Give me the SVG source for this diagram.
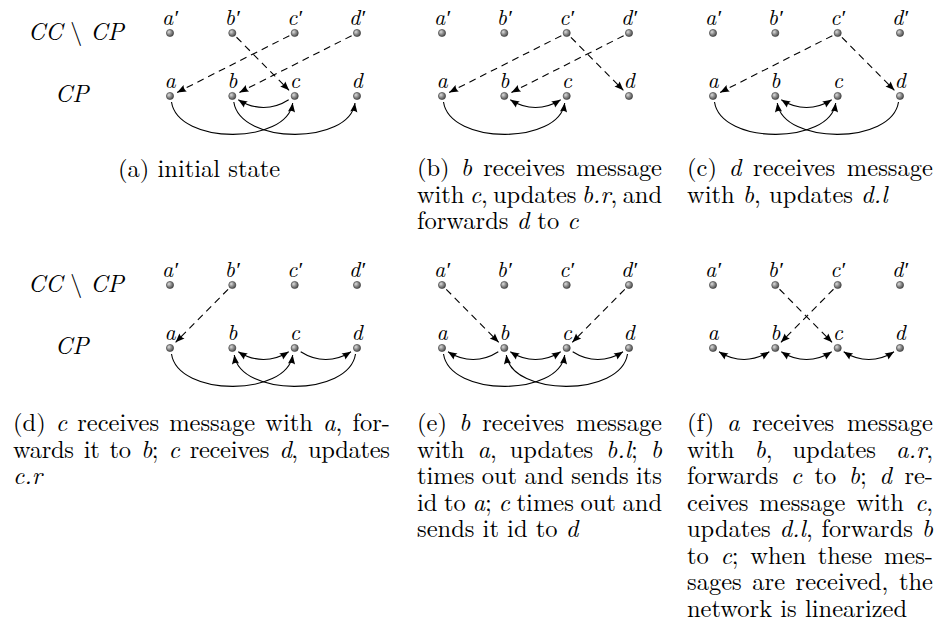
<svg xmlns="http://www.w3.org/2000/svg" width="938" height="640" viewBox="0 0 938 640">
<style>
text{fill:#000;font-family:'Latin Modern Roman','CMU Serif','Liberation Serif','Times New Roman',Times,Tinos,'Nimbus Roman',FreeSerif,'DejaVu Serif','Noto Serif',serif}
.lbl{font-style:italic;font-size:22px;text-anchor:middle}
.row{font-size:24px}
.cap{font-size:24.5px}
.i{font-style:italic}
.dash{fill:none;stroke:#000;stroke-width:1.1;stroke-dasharray:7 5;marker-end:url(#arr)}
.sol{fill:none;stroke:#000;stroke-width:1.1}
.ae{marker-end:url(#arr)}
.as{marker-start:url(#arr)}
.dot{fill:url(#ball);stroke:#3a3a3a;stroke-width:0.6}
</style>
<defs>
<radialGradient id="ball" cx="0.35" cy="0.35" r="0.7">
<stop offset="0" stop-color="#dcdcdc"/>
<stop offset="0.5" stop-color="#8c8c8c"/>
<stop offset="1" stop-color="#4a4a4a"/>
</radialGradient>
<marker id="arr" viewBox="-10 -5 11 10" refX="0" refY="0" markerWidth="11" markerHeight="10" markerUnits="userSpaceOnUse" orient="auto-start-reverse">
<path d="M0,0 L-9,-3.6 Q-7,0 -9,3.6 Z" fill="#000"/>
</marker>
</defs>
<rect width="938" height="640" fill="#fff"/>

<!-- row labels -->
<g id="row-labels">
<text class="row" x="28" y="40"><tspan class="i">CC</tspan> \ <tspan class="i">CP</tspan></text>
<text class="row i" x="55" y="102">CP</text>
<text class="row" x="28" y="292"><tspan class="i">CC</tspan> \ <tspan class="i">CP</tspan></text>
<text class="row i" x="55" y="354">CP</text>
</g>

<!-- Panel (a) -->
<g id="panel-a" transform="translate(170,33)">
<g id="pa-connectors">
<path class="dash" d="M119.34,2.71 L7.14,59.39"/>
<path class="dash" d="M181.64,2.71 L69.44,59.39"/>
<path class="dash" d="M66.52,4.26 L119.07,57.32"/>
<path class="sol ae" d="M118.7,66.7 C102.7,77 84.3,77 68.3,66.7"/>
<path class="sol ae" d="M1.5,69 C8,112 117,112 122.7,70"/>
<path class="sol ae" d="M63.8,69 C70.3,112 179.3,112 185,70"/>
</g>
<g id="pa-a1"><circle class="dot" cx="0" cy="0" r="3.6"/><text class="lbl" x="0" y="-8">a′</text></g>
<g id="pa-b1"><circle class="dot" cx="62.3" cy="0" r="3.6"/><text class="lbl" x="62.3" y="-8">b′</text></g>
<g id="pa-c1"><circle class="dot" cx="124.7" cy="0" r="3.6"/><text class="lbl" x="124.7" y="-8">c′</text></g>
<g id="pa-d1"><circle class="dot" cx="187" cy="0" r="3.6"/><text class="lbl" x="187" y="-8">d′</text></g>
<g id="pa-a"><circle class="dot" cx="0" cy="63" r="3.6"/><text class="lbl" x="0" y="55">a</text></g>
<g id="pa-b"><circle class="dot" cx="62.3" cy="63" r="3.6"/><text class="lbl" x="62.3" y="55">b</text></g>
<g id="pa-c"><circle class="dot" cx="124.7" cy="63" r="3.6"/><text class="lbl" x="124.7" y="55">c</text></g>
<g id="pa-d"><circle class="dot" cx="187" cy="63" r="3.6"/><text class="lbl" x="187" y="55">d</text></g>
</g>

<!-- Panel (b) -->
<g id="panel-b" transform="translate(442,33)">
<g id="pb-connectors">
<path class="dash" d="M119.34,2.71 L7.14,59.39"/>
<path class="dash" d="M181.64,2.71 L69.44,59.39"/>
<path class="dash" d="M128.92,4.27 L181.38,57.31"/>
<path class="sol as ae" d="M68.3,66.7 C84.3,77 102.7,77 118.7,66.7"/>
<path class="sol ae" d="M1.5,69 C8,112 117,112 122.7,70"/>
</g>
<g id="pb-a1"><circle class="dot" cx="0" cy="0" r="3.6"/><text class="lbl" x="0" y="-8">a′</text></g>
<g id="pb-b1"><circle class="dot" cx="62.3" cy="0" r="3.6"/><text class="lbl" x="62.3" y="-8">b′</text></g>
<g id="pb-c1"><circle class="dot" cx="124.7" cy="0" r="3.6"/><text class="lbl" x="124.7" y="-8">c′</text></g>
<g id="pb-d1"><circle class="dot" cx="187" cy="0" r="3.6"/><text class="lbl" x="187" y="-8">d′</text></g>
<g id="pb-a"><circle class="dot" cx="0" cy="63" r="3.6"/><text class="lbl" x="0" y="55">a</text></g>
<g id="pb-b"><circle class="dot" cx="62.3" cy="63" r="3.6"/><text class="lbl" x="62.3" y="55">b</text></g>
<g id="pb-c"><circle class="dot" cx="124.7" cy="63" r="3.6"/><text class="lbl" x="124.7" y="55">c</text></g>
<g id="pb-d"><circle class="dot" cx="187" cy="63" r="3.6"/><text class="lbl" x="187" y="55">d</text></g>
</g>

<!-- Panel (c) -->
<g id="panel-c" transform="translate(713,33)">
<g id="pc-connectors">
<path class="dash" d="M119.34,2.71 L7.14,59.39"/>
<path class="dash" d="M128.92,4.27 L181.38,57.31"/>
<path class="sol as ae" d="M68.3,66.7 C84.3,77 102.7,77 118.7,66.7"/>
<path class="sol ae" d="M1.5,69 C8,112 117,112 122.7,70"/>
<path class="sol ae" d="M185.5,69 C179,112 70,112 64.3,70"/>
</g>
<g id="pc-a1"><circle class="dot" cx="0" cy="0" r="3.6"/><text class="lbl" x="0" y="-8">a′</text></g>
<g id="pc-b1"><circle class="dot" cx="62.3" cy="0" r="3.6"/><text class="lbl" x="62.3" y="-8">b′</text></g>
<g id="pc-c1"><circle class="dot" cx="124.7" cy="0" r="3.6"/><text class="lbl" x="124.7" y="-8">c′</text></g>
<g id="pc-d1"><circle class="dot" cx="187" cy="0" r="3.6"/><text class="lbl" x="187" y="-8">d′</text></g>
<g id="pc-a"><circle class="dot" cx="0" cy="63" r="3.6"/><text class="lbl" x="0" y="55">a</text></g>
<g id="pc-b"><circle class="dot" cx="62.3" cy="63" r="3.6"/><text class="lbl" x="62.3" y="55">b</text></g>
<g id="pc-c"><circle class="dot" cx="124.7" cy="63" r="3.6"/><text class="lbl" x="124.7" y="55">c</text></g>
<g id="pc-d"><circle class="dot" cx="187" cy="63" r="3.6"/><text class="lbl" x="187" y="55">d</text></g>
</g>

<!-- Panel (d) -->
<g id="panel-d" transform="translate(170,285)">
<g id="pd-connectors">
<path class="dash" d="M58.08,4.27 L5.62,57.31"/>
<path class="sol as ae" d="M68.3,66.7 C84.3,77 102.7,77 118.7,66.7"/>
<path class="sol ae" d="M130.7,66.7 C146.7,77 165,77 181,66.7"/>
<path class="sol ae" d="M1.5,69 C8,112 117,112 122.7,70"/>
<path class="sol ae" d="M185.5,69 C179,112 70,112 64.3,70"/>
</g>
<g id="pd-a1"><circle class="dot" cx="0" cy="0" r="3.6"/><text class="lbl" x="0" y="-8">a′</text></g>
<g id="pd-b1"><circle class="dot" cx="62.3" cy="0" r="3.6"/><text class="lbl" x="62.3" y="-8">b′</text></g>
<g id="pd-c1"><circle class="dot" cx="124.7" cy="0" r="3.6"/><text class="lbl" x="124.7" y="-8">c′</text></g>
<g id="pd-d1"><circle class="dot" cx="187" cy="0" r="3.6"/><text class="lbl" x="187" y="-8">d′</text></g>
<g id="pd-a"><circle class="dot" cx="0" cy="63" r="3.6"/><text class="lbl" x="0" y="55">a</text></g>
<g id="pd-b"><circle class="dot" cx="62.3" cy="63" r="3.6"/><text class="lbl" x="62.3" y="55">b</text></g>
<g id="pd-c"><circle class="dot" cx="124.7" cy="63" r="3.6"/><text class="lbl" x="124.7" y="55">c</text></g>
<g id="pd-d"><circle class="dot" cx="187" cy="63" r="3.6"/><text class="lbl" x="187" y="55">d</text></g>
</g>

<!-- Panel (e) -->
<g id="panel-e" transform="translate(442,285)">
<g id="pe-connectors">
<path class="dash" d="M4.22,4.27 L56.68,57.31"/>
<path class="dash" d="M182.78,4.27 L130.32,57.31"/>
<path class="sol ae" d="M56.3,66.7 C40.3,77 22,77 6,66.7"/>
<path class="sol as ae" d="M68.3,66.7 C84.3,77 102.7,77 118.7,66.7"/>
<path class="sol ae" d="M130.7,66.7 C146.7,77 165,77 181,66.7"/>
<path class="sol ae" d="M1.5,69 C8,112 117,112 122.7,70"/>
<path class="sol ae" d="M185.5,69 C179,112 70,112 64.3,70"/>
</g>
<g id="pe-a1"><circle class="dot" cx="0" cy="0" r="3.6"/><text class="lbl" x="0" y="-8">a′</text></g>
<g id="pe-b1"><circle class="dot" cx="62.3" cy="0" r="3.6"/><text class="lbl" x="62.3" y="-8">b′</text></g>
<g id="pe-c1"><circle class="dot" cx="124.7" cy="0" r="3.6"/><text class="lbl" x="124.7" y="-8">c′</text></g>
<g id="pe-d1"><circle class="dot" cx="187" cy="0" r="3.6"/><text class="lbl" x="187" y="-8">d′</text></g>
<g id="pe-a"><circle class="dot" cx="0" cy="63" r="3.6"/><text class="lbl" x="0" y="55">a</text></g>
<g id="pe-b"><circle class="dot" cx="62.3" cy="63" r="3.6"/><text class="lbl" x="62.3" y="55">b</text></g>
<g id="pe-c"><circle class="dot" cx="124.7" cy="63" r="3.6"/><text class="lbl" x="124.7" y="55">c</text></g>
<g id="pe-d"><circle class="dot" cx="187" cy="63" r="3.6"/><text class="lbl" x="187" y="55">d</text></g>
</g>

<!-- Panel (f) -->
<g id="panel-f" transform="translate(713,285)">
<g id="pf-connectors">
<path class="dash" d="M66.52,4.26 L119.07,57.32"/>
<path class="dash" d="M120.48,4.26 L67.93,57.32"/>
<path class="sol as ae" d="M6,66.7 C22,77 40.3,77 56.3,66.7"/>
<path class="sol as ae" d="M68.3,66.7 C84.3,77 102.7,77 118.7,66.7"/>
<path class="sol as ae" d="M130.7,66.7 C146.7,77 165,77 181,66.7"/>
</g>
<g id="pf-a1"><circle class="dot" cx="0" cy="0" r="3.6"/><text class="lbl" x="0" y="-8">a′</text></g>
<g id="pf-b1"><circle class="dot" cx="62.3" cy="0" r="3.6"/><text class="lbl" x="62.3" y="-8">b′</text></g>
<g id="pf-c1"><circle class="dot" cx="124.7" cy="0" r="3.6"/><text class="lbl" x="124.7" y="-8">c′</text></g>
<g id="pf-d1"><circle class="dot" cx="187" cy="0" r="3.6"/><text class="lbl" x="187" y="-8">d′</text></g>
<g id="pf-a"><circle class="dot" cx="0" cy="63" r="3.6"/><text class="lbl" x="0" y="55">a</text></g>
<g id="pf-b"><circle class="dot" cx="62.3" cy="63" r="3.6"/><text class="lbl" x="62.3" y="55">b</text></g>
<g id="pf-c"><circle class="dot" cx="124.7" cy="63" r="3.6"/><text class="lbl" x="124.7" y="55">c</text></g>
<g id="pf-d"><circle class="dot" cx="187" cy="63" r="3.6"/><text class="lbl" x="187" y="55">d</text></g>
</g>

<!-- Captions -->
<g id="captions">
<text class="cap" x="118" y="177">(a) initial state</text>

<text class="cap" x="417" y="176" word-spacing="3" textLength="245" lengthAdjust="spacing">(b) <tspan class="i">b</tspan> receives message</text>
<text class="cap" x="417" y="202.5" word-spacing="-2.6" textLength="245" lengthAdjust="spacing">with <tspan class="i">c</tspan>, updates <tspan class="i">b.r</tspan>, and</text>
<text class="cap" x="417" y="229">forwards <tspan class="i">d</tspan> to <tspan class="i">c</tspan></text>

<text class="cap" x="687" y="176" word-spacing="3.5" textLength="246" lengthAdjust="spacing">(c) <tspan class="i">d</tspan> receives message</text>
<text class="cap" x="687" y="202.5">with <tspan class="i">b</tspan>, updates <tspan class="i">d.l</tspan></text>

<text class="cap" x="13" y="431" word-spacing="1.9" textLength="377" lengthAdjust="spacing">(d) <tspan class="i">c</tspan> receives message with <tspan class="i">a</tspan>, for-</text>
<text class="cap" x="13" y="457.5" word-spacing="2.3" textLength="377" lengthAdjust="spacing">wards it to <tspan class="i">b</tspan>; <tspan class="i">c</tspan> receives <tspan class="i">d</tspan>, updates</text>
<text class="cap i" x="13" y="484">c.r</text>

<text class="cap" x="417" y="431" word-spacing="3.9" textLength="245" lengthAdjust="spacing">(e) <tspan class="i">b</tspan> receives message</text>
<text class="cap" x="417" y="457.5" word-spacing="4.9" textLength="245" lengthAdjust="spacing">with <tspan class="i">a</tspan>, updates <tspan class="i">b.l</tspan>; <tspan class="i">b</tspan></text>
<text class="cap" x="417" y="484" word-spacing="-0.8" textLength="245" lengthAdjust="spacing">times out and sends its</text>
<text class="cap" x="417" y="510.5" word-spacing="-1.4" textLength="245" lengthAdjust="spacing">id to <tspan class="i">a</tspan>; <tspan class="i">c</tspan> times out and</text>
<text class="cap" x="417" y="537">sends it id to <tspan class="i">d</tspan></text>

<text class="cap" x="687" y="431" word-spacing="4.5" textLength="246" lengthAdjust="spacing">(f) <tspan class="i">a</tspan> receives message</text>
<text class="cap" x="687" y="457.5" word-spacing="12" textLength="246" lengthAdjust="spacing">with <tspan class="i">b</tspan>, updates <tspan class="i">a.r</tspan>,</text>
<text class="cap" x="687" y="484" word-spacing="4.4" textLength="246" lengthAdjust="spacing">forwards <tspan class="i">c</tspan> to <tspan class="i">b</tspan>; <tspan class="i">d</tspan> re-</text>
<text class="cap" x="687" y="510.5" word-spacing="2.8" textLength="246" lengthAdjust="spacing">ceives message with <tspan class="i">c</tspan>,</text>
<text class="cap" x="687" y="537" word-spacing="0.7" textLength="246" lengthAdjust="spacing">updates <tspan class="i">d.l</tspan>, forwards <tspan class="i">b</tspan></text>
<text class="cap" x="687" y="563.5" word-spacing="3.7" textLength="246" lengthAdjust="spacing">to <tspan class="i">c</tspan>; when these mes-</text>
<text class="cap" x="687" y="590" word-spacing="2.3" textLength="246" lengthAdjust="spacing">sages are received, the</text>
<text class="cap" x="687" y="616.5">network is linearized</text>
</g>
</svg>
